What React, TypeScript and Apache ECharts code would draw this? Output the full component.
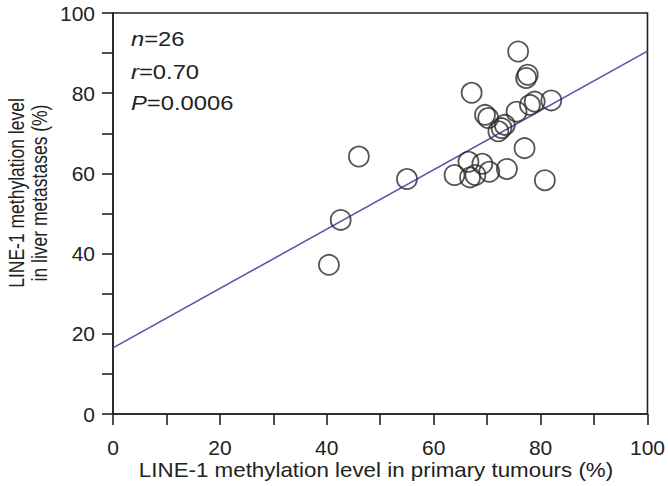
import React, { useEffect, useRef } from "react";
import * as echarts from "echarts";

// LINE-1 methylation (%): primary tumours (x) vs liver metastases (y)
const primaryTumours = [
  40.4, 42.6, 46.0, 55.0, 63.9, 66.5, 66.8, 67.8, 69.1, 70.4, 73.7, 80.8, 77.0,
  67.1, 69.6, 70.2, 72.1, 72.7, 73.3, 75.5, 78.0, 78.9, 82.0, 75.8, 77.6, 77.3,
];
const liverMetastases = [
  37.2, 48.4, 64.2, 58.6, 59.6, 62.9, 59.0, 59.6, 62.4, 60.4, 61.1, 58.3, 66.3,
  80.1, 74.6, 73.8, 70.5, 71.3, 72.1, 75.4, 77.1, 77.9, 78.2, 90.4, 84.6, 83.8,
];

// regression line end points
const fitX = [0, 100];
const fitY = [16.5, 90.5];

const axisMin = 0;
const axisMax = 100;
const tickStep = 10;
const labelStep = 20;

const statsLines = ["{i|n}=26", "{i|r}=0.70", "{i|P}=0.0006"];
const xTitle = "LINE-1 methylation level in primary tumours (%)";
const yTitleLines = ["LINE-1 methylation level", "in liver metastases (%)"];

const FONT = "'Liberation Sans', Arial, Helvetica, sans-serif";
const INK = "#222";

export default function App() {
  const ref = useRef<HTMLDivElement>(null);

  useEffect(() => {
    document.body.style.margin = "0";
    if (!ref.current) return;
    const chart = echarts.init(ref.current, undefined, { renderer: "svg" });

    const grid = { left: 113, right: 18, top: 13, bottom: 72 };
    const labelFmt = (v: number) => (v % labelStep === 0 ? String(v) : "");

    const axisCommon = {
      type: "value" as const,
      min: axisMin,
      max: axisMax,
      interval: tickStep,
      splitLine: { show: false },
      axisLine: { show: true, lineStyle: { color: INK, width: 1.6 } },
      axisTick: { show: true, inside: false, length: 11, lineStyle: { color: INK, width: 1.6 } },
    };

    const statRowY = [39, 72.5, 103];

    chart.setOption({
      animation: false,
      backgroundColor: "#fff",
      grid: { ...grid, show: true, borderColor: INK, borderWidth: 1.6, backgroundColor: "transparent" },
      xAxis: {
        ...axisCommon,
        axisLabel: { formatter: labelFmt, margin: 23, fontSize: 21, color: INK, fontFamily: FONT },
      },
      yAxis: {
        ...axisCommon,
        axisLabel: { formatter: labelFmt, margin: 18, fontSize: 21, color: INK, fontFamily: FONT },
      },
      series: [
        {
          type: "line",
          data: fitX.map((x, i) => [x, fitY[i]]),
          showSymbol: false,
          symbol: "none",
          lineStyle: { color: "#5252a8", width: 1.5 },
          silent: true,
          z: 1,
        },
        {
          type: "scatter",
          data: primaryTumours.map((x, i) => [x, liverMetastases[i]]),
          symbol: "circle",
          symbolSize: 20,
          itemStyle: { color: "rgba(0,0,0,0)", borderColor: "#2a2a2a", borderWidth: 1.8 },
          z: 2,
        },
      ],
      graphic: [
        ...statsLines.map((t, i) => ({
          type: "text",
          x: 131,
          y: statRowY[i],
          scaleX: 1.22,
          style: {
            text: t,
            fontSize: 19.5,
            fontFamily: FONT,
            fill: INK,
            textVerticalAlign: "middle",
            rich: { i: { fontStyle: "italic", fontSize: 19.5, fontFamily: FONT, fill: INK } },
          },
        })),
        {
          type: "text",
          x: 376,
          y: 470,
          scaleX: 1.09,
          style: {
            text: xTitle,
            fontSize: 20.5,
            fontFamily: FONT,
            fill: INK,
            textAlign: "center",
            textVerticalAlign: "middle",
          },
        },
        ...yTitleLines.map((t, i) => ({
          type: "text",
          x: 16 + i * 23,
          y: 193,
          rotation: Math.PI / 2,
          scaleY: 1.3,
          style: {
            text: t,
            fontSize: 17.5,
            fontFamily: FONT,
            fill: INK,
            textAlign: "center",
            textVerticalAlign: "middle",
          },
        })),
      ],
    });

    return () => chart.dispose();
  }, []);

  return <div ref={ref} style={{ width: 668, height: 486 }} />;
}
